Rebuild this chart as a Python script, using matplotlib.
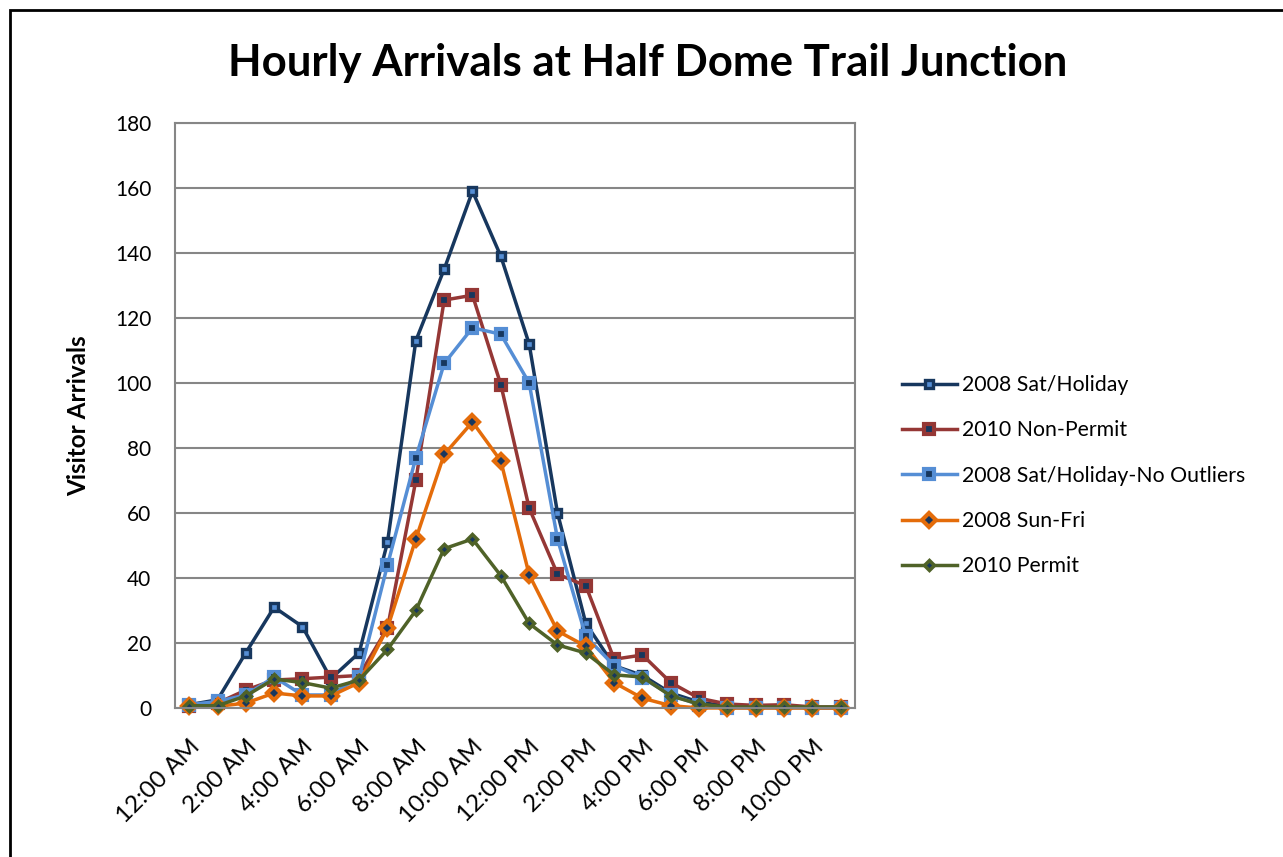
import matplotlib
matplotlib.use("Agg")
import matplotlib.pyplot as plt
from matplotlib.patches import Rectangle

plt.rcParams['font.family'] = ['Lato', 'DejaVu Sans']

hours = ["12:00 AM", "1:00 AM", "2:00 AM", "3:00 AM", "4:00 AM", "5:00 AM",
         "6:00 AM", "7:00 AM", "8:00 AM", "9:00 AM", "10:00 AM", "11:00 AM",
         "12:00 PM", "1:00 PM", "2:00 PM", "3:00 PM", "4:00 PM", "5:00 PM",
         "6:00 PM", "7:00 PM", "8:00 PM", "9:00 PM", "10:00 PM", "11:00 PM"]

sat_holiday_2008 = [1, 2.5, 17, 31, 25, 9, 17, 51, 113, 135, 159, 139,
                    112, 60, 26, 13, 10, 4.6, 1.8, 0.5, 0.5, 0.5, 0, 0]
non_permit_2010 = [0.5, 1.5, 5.5, 8.6, 9, 9.5, 10, 24.6, 70, 125.5, 127, 99.5,
                   61.5, 41.2, 37.6, 15, 16.3, 7.8, 3, 1.2, 0.8, 1, 0.3, 0.3]
no_outliers_2008 = [1, 2, 4, 9.5, 4, 4, 9.5, 44, 77, 106, 117, 115,
                    100, 52, 22, 13, 9.2, 4, 1, 0, 0, 0, 0, 0]
sun_fri_2008 = [0.5, 0.5, 1.5, 4.6, 3.7, 3.7, 7.8, 24.6, 52, 78, 88, 76,
                41, 23.7, 19, 7.8, 3, 0.7, 0, 0, 0, 0, 0, 0]
permit_2010 = [0.7, 0.7, 3.7, 8.9, 7.8, 6.1, 8.6, 18, 30, 49, 52, 40.7,
               26, 19.4, 16.9, 10.2, 9.5, 3.7, 1.2, 0.3, 0.3, 0.3, 0.3, 0.3]

navy = "#17375E"
# name, values, line colour, marker, marker face, marker size, edge width
series = [
    ("2008 Sat/Holiday", sat_holiday_2008, navy, "s", "#558ED5", 5.5, 2.4),
    ("2010 Non-Permit", non_permit_2010, "#953735", "s", navy, 7.5, 3),
    ("2008 Sat/Holiday-No Outliers", no_outliers_2008, "#558ED5", "s", navy, 7.5, 3),
    ("2008 Sun-Fri", sun_fri_2008, "#E46C0A", "D", navy, 7.5, 3),
    ("2010 Permit", permit_2010, "#4F6228", "D", navy, 5.5, 2.5),
]

fig = plt.figure(figsize=(12.83, 8.57), dpi=100)
ax = fig.add_axes([0.1364, 0.1739, 0.53, 0.6826])

x = range(len(hours))
for name, vals, col, mk, face, ms, mew in series:
    ax.plot(x, vals, color=col, lw=2.5, marker=mk, markersize=ms,
            markerfacecolor=face, markeredgecolor=col, markeredgewidth=mew,
            label=name, clip_on=False)

ax.set_xlim(-0.5, len(hours) - 0.5)
ax.set_ylim(0, 180)
ax.set_yticks(range(0, 181, 20))
ax.set_xticks(range(0, len(hours), 2))
ax.set_xticklabels(hours[::2], rotation=45, ha="right", rotation_mode="anchor")
ax.tick_params(axis="x", length=0, labelsize=17.5, pad=20)
ax.tick_params(axis="y", length=0, labelsize=15, pad=17)
ax.grid(axis="y", color="#868686", lw=1.5)
ax.set_axisbelow(True)
for sp in ax.spines.values():
    sp.set_color("#868686")
    sp.set_linewidth(1.5)

ax.set_ylabel("Visitor Arrivals", fontsize=17.5, fontweight="bold", labelpad=18)
fig.text(0.505, 0.927, "Hourly Arrivals at Half Dome Trail Junction",
         fontsize=31.5, fontweight="bold", ha="center", va="center")

ax.legend(loc="center left", bbox_to_anchor=(1.056, 0.397), frameon=False,
          borderaxespad=0, fontsize=15.3, labelspacing=1.19, handlelength=2.6,
          handletextpad=0.25)

fig.patches.append(Rectangle((10 / 1283, -0.1), 1.2, 1 - 10 / 857 + 0.1,
                             transform=fig.transFigure, fill=False,
                             edgecolor="black", lw=2))

fig.savefig("out.png", dpi=100)
